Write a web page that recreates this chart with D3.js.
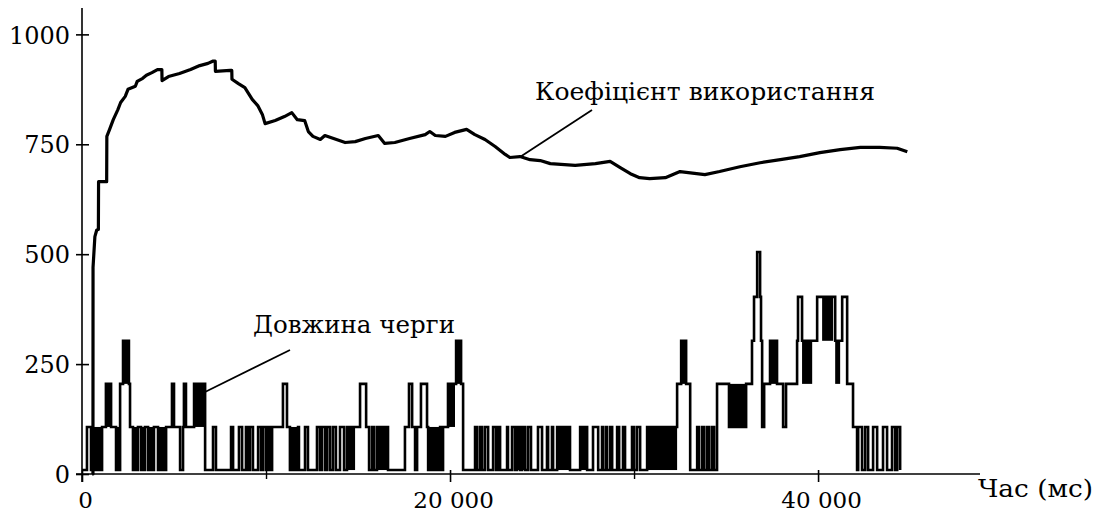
<!DOCTYPE html>
<html>
<head>
<meta charset="utf-8">
<script src="https://cdn.jsdelivr.net/npm/d3@7"></script>
<style>
  html, body { margin: 0; padding: 0; background: #fff; }
  svg { display: block; }
</style>
</head>
<body>
<script>
// ---- data ----
const xTickValues = [0, 20000, 40000];
const xTickLabels = ["0", "20 000", "40 000"];
const xMinorTicks = [10000, 30000];
const yTickValues = [0, 250, 500, 750, 1000];
const yTickLabels = ["0", "250", "500", "750", "1000"];
const xAxisTitle = "Час (мс)";
const utilLabel = "Коефіцієнт використання";
const queueLabel = "Довжина черги";

// utilisation coefficient (x1000) over time (ms)
const utilTime = [550, 595, 600, 700, 800, 890, 900, 1340, 1350, 1500, 1700, 1950, 2100, 2350, 2500, 2900, 3000, 3300, 3500, 3800, 4100, 4340, 4350, 4700,
  5300, 5900, 6400, 6850, 7100, 7240, 7250, 8050, 8140, 8150, 8500, 8850, 9250, 9550, 9800, 9950, 10500, 11000, 11400, 11700, 12100, 12300,
  12550, 12950, 13200, 14300, 14850, 15400, 16100, 16450, 17000, 17800, 18650, 18900, 19200, 19750, 20250, 20900, 21350, 21900, 22450, 23000,
  23250, 23800, 24350, 24900, 25450, 26800, 27900, 28700, 29250, 29800, 30300, 30850, 31700, 32500, 33850, 34650, 35750, 36850, 37950, 39000,
  40100, 41200, 42300, 43350, 44300, 44850];
const utilValue = [0, 0, 470, 540, 555, 556, 665, 665, 768, 784, 806, 829, 845, 859, 875, 882, 893, 900, 907, 913, 920, 920, 895, 904,
  911, 920, 929, 934, 939, 939, 916, 918, 918, 898, 888, 879, 852, 838, 818, 797, 804, 813, 822, 806, 804, 779,
  768, 761, 770, 754, 756, 763, 770, 752, 754, 763, 772, 779, 770, 768, 777, 784, 772, 761, 745, 727,
  720, 722, 715, 713, 706, 702, 706, 711, 697, 683, 674, 672, 674, 688, 681, 688, 699, 708, 715, 722,
  731, 738, 743, 743, 741, 733];

// queue length: level value on the y axis for each queue length 0..5
const queueLevelValue = [9, 107, 205, 303, 403, 505];
// queue length change events: time (ms) and new queue length
const queueTime = [0, 270, 490, 1090, 1300, 1580, 1850, 2070, 2230, 2550, 2610, 2770, 3040, 3210, 3420, 3590, 3910, 4130, 4570, 4890,
  5000, 5330, 5490, 5540, 5650, 6090, 6690, 7120, 7280, 8100, 8210, 8530, 8700, 8910, 9020, 9130, 9290, 9570, 9730, 9840,
  10000, 10110, 10220, 10330, 10920, 11140, 11300, 11740, 11790, 12120, 12280, 12770, 12930, 13040, 13210, 13320, 13480, 13640, 13800, 14020,
  14240, 14400, 15110, 15440, 15600, 15760, 15870, 16030, 16630, 17550, 17770, 17940, 18100, 18210, 18420, 18750, 18810, 19460, 19570, 19620,
  19890, 20330, 20600, 20710, 21360, 21470, 21630, 21740, 21900, 22070, 22340, 22500, 22610, 22720, 23100, 23150, 23370, 23530, 23640, 23810,
  23910, 24080, 24240, 24400, 24780, 25000, 25270, 25330, 25540, 25600, 25820, 26520, 27070, 27450, 27770, 28050, 28260, 28320, 28480, 28530,
  28700, 28810, 29080, 29190, 29400, 29510, 29890, 30000, 30160, 30330, 30710, 32340, 32560, 32830, 33050, 33430, 33530, 33700, 33810, 33970,
  34080, 34240, 34350, 34510, 35160, 36090, 36410, 36520, 36690, 36850, 36900, 36960, 37070, 37390, 37770, 38100, 38260, 38860, 38910, 39130,
  39950, 40930, 41310, 41580, 41900, 42120, 42180, 42390, 42560, 42720, 42990, 43210, 43530, 43750, 44020, 44190, 44300, 44460];
const queueLen = [0, 1, 0, 1, 2, 1, 0, 2, 3, 2, 1, 0, 1, 0, 1, 0, 1, 0, 1, 2,
  1, 0, 1, 2, 1, 2, 0, 1, 0, 1, 0, 1, 0, 1, 0, 1, 0, 1, 0, 1,
  0, 1, 0, 1, 2, 1, 0, 1, 0, 1, 0, 1, 0, 1, 0, 1, 0, 1, 0, 1,
  0, 1, 2, 1, 0, 1, 0, 1, 0, 1, 2, 1, 0, 1, 2, 1, 0, 1, 0, 1,
  2, 3, 2, 0, 1, 0, 1, 0, 1, 0, 1, 0, 1, 0, 1, 0, 1, 0, 1, 0,
  1, 0, 1, 0, 1, 0, 1, 0, 1, 0, 1, 0, 1, 0, 1, 0, 1, 0, 1, 0,
  1, 0, 1, 0, 1, 0, 1, 0, 1, 0, 1, 2, 3, 2, 0, 1, 0, 1, 0, 1,
  0, 1, 0, 2, 1, 2, 3, 4, 5, 4, 3, 1, 2, 3, 2, 1, 2, 3, 4, 3,
  4, 3, 4, 2, 1, 0, 1, 0, 1, 0, 1, 0, 1, 0, 1, 0, 1, 0];
// intervals of very rapid switching (printed solid): start, end, low length, high length
const denseStart = [490, 1300, 1850, 2230, 2770, 3210, 3590, 4130, 6090, 11300, 14400, 16030, 18810, 19890, 20330, 23640, 25820, 27070, 30710, 32560, 35160, 37390, 39130, 40220, 40930];
const denseEnd   = [1090, 1580, 2070, 2550, 3040, 3420, 3910, 4570, 6690, 11690, 14840, 16630, 19460, 20270, 20600, 24080, 26520, 27450, 32340, 32830, 36090, 37770, 39680, 40820, 41200];
const denseLow   = [0, 1, 0, 2, 0, 0, 0, 0, 1, 0, 0, 0, 0, 1, 2, 0, 0, 0, 0, 2, 1, 2, 2, 3, 2];
const denseHigh  = [1, 2, 1, 3, 1, 1, 1, 1, 2, 1, 1, 1, 1, 2, 3, 1, 1, 1, 1, 3, 2, 3, 3, 4, 3];

// ---- drawing ----
const FONT = "DejaVu Serif";
const W = 1097, H = 515;
const svg = d3.select("body").append("svg").attr("width", W).attr("height", H);

const x = d3.scaleLinear().domain([0, 48800]).range([82, 980]);
const y = d3.scaleLinear().domain([0, 1060]).range([474, 8]);

// axes
const yAxis = d3.axisLeft(y).tickValues(yTickValues).tickFormat((d, i) => yTickLabels[i]).tickSize(6).tickPadding(6);
const gy = svg.append("g").attr("transform", `translate(${x(0)},0)`).call(yAxis)
  .attr("font-family", FONT).attr("font-size", 24);
gy.select(".domain").remove();
gy.selectAll(".tick line").attr("x1", 7).attr("x2", -6).attr("stroke", "#000").attr("stroke-width", 1.6);
gy.selectAll(".tick text").attr("x", -12).attr("dy", "0.36em").attr("fill", "#000");
gy.append("line").attr("x1", 0).attr("x2", 0).attr("y1", y.range()[1]).attr("y2", 482).attr("stroke", "#000").attr("stroke-width", 1.6);

const xAxis = d3.axisBottom(x).tickValues(xTickValues).tickFormat((d, i) => xTickLabels[i]).tickSize(8);
const gx = svg.append("g").attr("transform", `translate(0,${y(0)})`).call(xAxis)
  .attr("font-family", FONT).attr("font-size", 23);
gx.select(".domain").remove();
gx.selectAll(".tick line").attr("y1", -4).attr("y2", 8).attr("stroke", "#000").attr("stroke-width", 1.6);
gx.selectAll(".tick text").attr("y", 34).attr("dy", null).attr("dx", 3).attr("fill", "#000");
gx.append("line").attr("x1", 76).attr("x2", x.range()[1]).attr("y1", 0).attr("y2", 0).attr("stroke", "#000").attr("stroke-width", 1.6);

const xMinor = d3.axisBottom(x).tickValues(xMinorTicks).tickFormat("").tickSize(5);
const gxm = svg.append("g").attr("transform", `translate(0,${y(0)})`).call(xMinor);
gxm.select(".domain").remove();
gxm.selectAll(".tick line").attr("y1", -3).attr("y2", 5).attr("stroke", "#000").attr("stroke-width", 1.4);

svg.append("text").attr("x", 978).attr("y", 497).attr("font-family", FONT).attr("font-size", 24)
  .attr("textLength", 115).attr("lengthAdjust", "spacingAndGlyphs").text(xAxisTitle);

// queue length: dense blocks
const qy = n => y(queueLevelValue[n]);
svg.append("g").selectAll("rect").data(denseStart).join("rect")
  .attr("x", (d, i) => x(d))
  .attr("width", (d, i) => x(denseEnd[i]) - x(d))
  .attr("y", (d, i) => qy(denseHigh[i]))
  .attr("height", (d, i) => qy(denseLow[i]) - qy(denseHigh[i]))
  .attr("fill", "#000");

const queuePts = queueTime.map((t, i) => [t, queueLen[i]]);
svg.append("path")
  .attr("d", d3.line().x(d => x(d[0])).y(d => qy(d[1])).curve(d3.curveStepAfter)(queuePts))
  .attr("fill", "none").attr("stroke", "#000").attr("stroke-width", 2.6);

// utilisation line
const utilPts = utilTime.map((t, i) => [t, utilValue[i]]);
svg.append("path")
  .attr("d", d3.line().x(d => x(d[0])).y(d => y(d[1])).curve(d3.curveLinear)(utilPts))
  .attr("fill", "none").attr("stroke", "#000").attr("stroke-width", 3.2).attr("stroke-linejoin", "round");

// annotations
svg.append("text").attr("x", 535).attr("y", 100).attr("font-family", FONT).attr("font-size", 25)
  .attr("textLength", 340).attr("lengthAdjust", "spacingAndGlyphs").text(utilLabel);
svg.append("line").attr("x1", 592).attr("y1", 110).attr("x2", 520).attr("y2", 157).attr("stroke", "#000").attr("stroke-width", 1.8);
svg.append("text").attr("x", 253).attr("y", 333).attr("font-family", FONT).attr("font-size", 25)
  .attr("textLength", 202).attr("lengthAdjust", "spacingAndGlyphs").text(queueLabel);
svg.append("line").attr("x1", 290).attr("y1", 350).attr("x2", 205).attr("y2", 392).attr("stroke", "#000").attr("stroke-width", 1.8);
</script>
</body>
</html>
